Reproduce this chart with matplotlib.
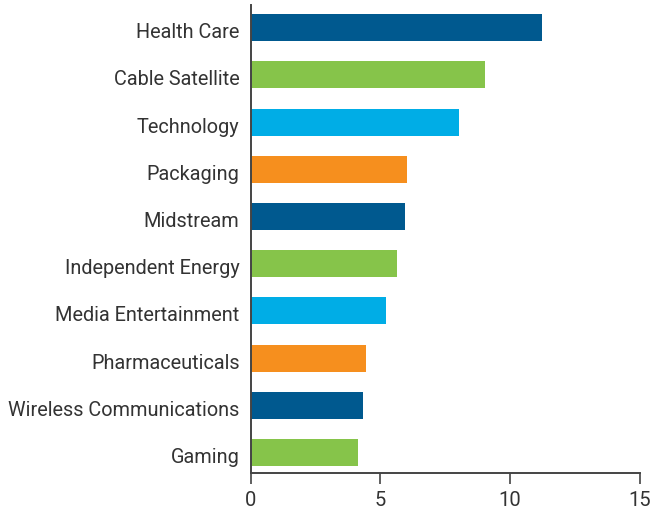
import matplotlib
matplotlib.use('Agg')
import matplotlib.pyplot as plt
import matplotlib.transforms as mtransforms

# sectors, top to bottom
sectors = ['Health Care', 'Cable Satellite', 'Technology', 'Packaging', 'Midstream',
           'Independent Energy', 'Media Entertainment', 'Pharmaceuticals',
           'Wireless Communications', 'Gaming']
values = [11.23, 9.04, 8.03, 6.01, 5.95, 5.64, 5.22, 4.45, 4.33, 4.14]
palette = ['#00598F', '#86C44A', '#00ADE6', '#F68F1E']
xticks = [0, 5, 10, 15]

plt.rcParams['font.family'] = ['Roboto', 'DejaVu Sans']
text_col = '#333333'

fig = plt.figure(figsize=(6.52, 5.14), dpi=100)
ax = fig.add_axes([0.3845, 0.0792, 0.5965, 0.9111])

ypos = list(range(len(sectors)))
colors = [palette[i % len(palette)] for i in ypos]
ax.barh(ypos, values, height=0.57, color=colors)

ax.set_ylim(9.44, -0.48)
ax.set_xlim(0, 15)
ax.set_yticks(ypos)
ax.set_yticklabels(sectors, fontsize=14.3, color=text_col)
ax.set_xticks(xticks)
ax.set_xticklabels([str(t) for t in xticks], fontsize=14.5, color=text_col)

ax.tick_params(axis='y', length=0, pad=8)
ax.tick_params(axis='x', length=8, width=1.2, color='#444444', pad=5)

# nudge category labels down a little, like the original
shift = mtransforms.ScaledTranslation(0, -3 / 100, fig.dpi_scale_trans)
for lab in ax.get_yticklabels():
    lab.set_transform(lab.get_transform() + shift)

for s in ['top', 'right']:
    ax.spines[s].set_visible(False)
for s in ['left', 'bottom']:
    ax.spines[s].set_color('#444444')
    ax.spines[s].set_linewidth(1.4)

fig.savefig('out.png', dpi=100)
